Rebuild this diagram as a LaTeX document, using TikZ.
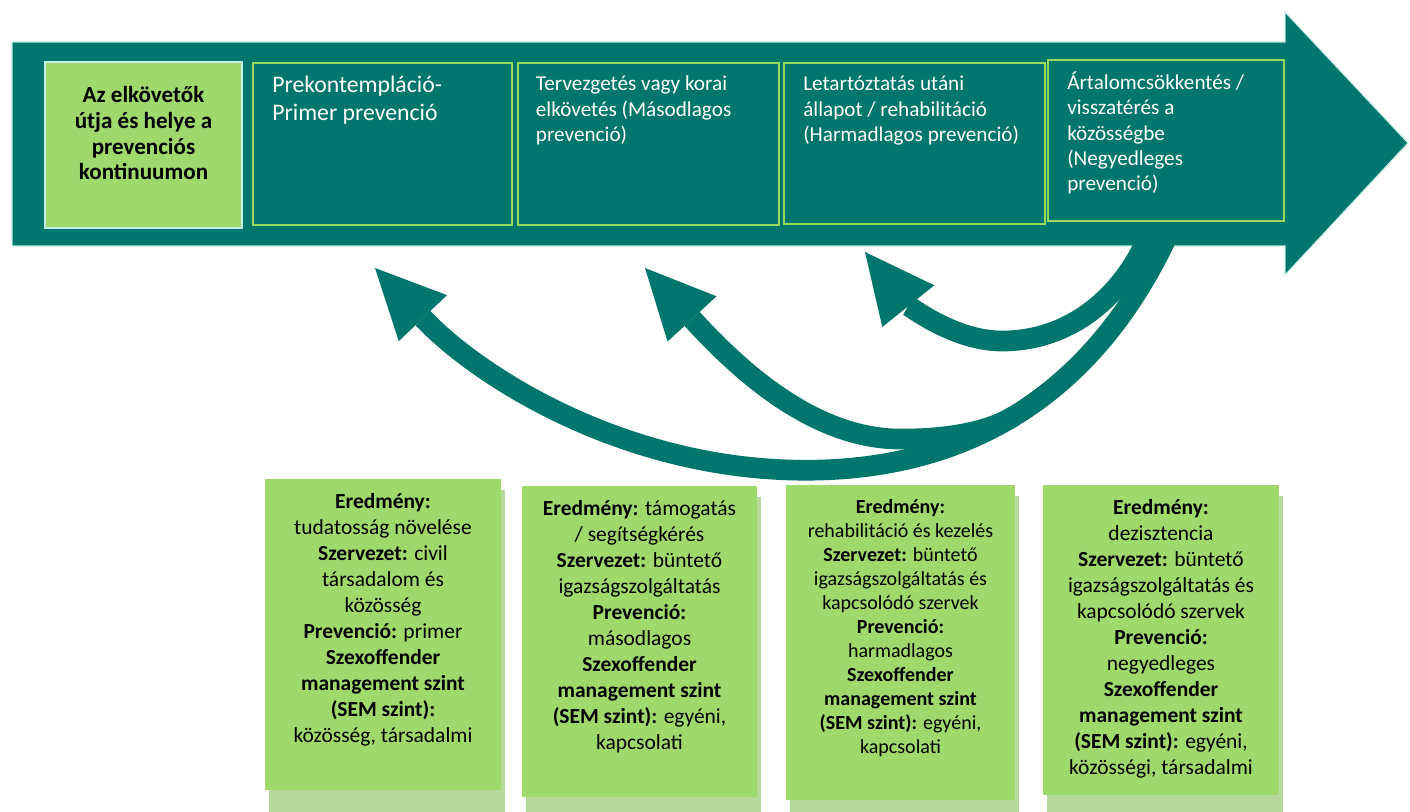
\documentclass[tikz,border=0pt]{standalone}
\usepackage{fontspec}
\setmainfont{Carlito}
\usetikzlibrary{arrows.meta,positioning,fit}

\definecolor{arrowteal}{HTML}{00766C}
\definecolor{boxgreen}{HTML}{A0D96B}
\definecolor{rimgreen}{HTML}{9ADB5C}
\definecolor{glow}{HTML}{C4EEE8}
\definecolor{shadowgreen}{HTML}{B6D89C}

\begin{document}
\begin{tikzpicture}[x=0.75pt, y=-0.75pt,
	stage/.style = {draw=rimgreen, line width=1.5pt, fill=arrowteal, inner sep=0pt},
	stagetext/.style = {anchor=north west, inner sep=0pt, text=white, align=left, font=\fontsize{15.9}{19}\selectfont},
	result/.style = {fill=boxgreen, inner sep=0pt},
	resulttext/.style = {anchor=north, inner sep=0pt, align=center, font=\fontsize{16.1}{19.5}\selectfont},
	back/.style = {draw=arrowteal, line width=15.5pt, -{Triangle[length=52pt, width=50pt, line width=0pt]}}]
	\useasboundingbox (0,0) rectangle (1410,812);

	% main arrow
	\fill[arrowteal, draw=glow, line width=0.8pt] (12,42) -- (1285,42) -- (1285,12) -- (1408,143) -- (1285,275) -- (1285,246) -- (12,246) -- cycle;

	\node[fit={(45,62) (242,228)}, fill=boxgreen, draw=glow, line width=1.5pt, inner sep=0pt] (start) {};
	\node[anchor=north, inner sep=0pt, align=center, font=\bfseries\fontsize{17.3}{19.3}\selectfont] (starttext) at ([yshift=-19pt]start.north) {Az elkövetők\\útja és helye a\\prevenciós\\kontinuumon};

	\node[stage, fit={(253,63) (512,225)}] (s1) {};
	\node[stage, fit={(518,63) (779,225)}] (s2) {};
	\node[stage, fit={(784,63) (1045,224)}] (s3) {};
	\node[stage, fit={(1048,60) (1284,221)}] (s4) {};
	\node[stagetext, font=\fontsize{17.8}{21.3}\selectfont] (s1text) at ([xshift=15pt, yshift=-10pt]s1.north west) {Prekontempláció-\\Primer prevenció};
	\node[stagetext] (s2text) at ([xshift=14pt, yshift=-10.5pt]s2.north west) {Tervezgetés vagy korai\\elkövetés (Másodlagos\\prevenció)};
	\node[stagetext] (s3text) at ([xshift=15pt, yshift=-10.5pt]s3.north west) {Letartóztatás utáni\\állapot / rehabilitáció\\(Harmadlagos prevenció)};
	\node[stagetext] (s4text) at ([xshift=15pt, yshift=-9.5pt]s4.north west) {Ártalomcsökkentés /\\visszatérés a\\közösségbe\\(Negyedleges\\prevenció)};

	% curved arrows back to the stages (the long one last, it covers the joins)
	\coordinate (from1) at (1167,237);
	\coordinate (from2) at (1013.4,416.5);
	\coordinate (from3) at (1148,237);
	\coordinate (to1) at (375,268);
	\coordinate (to2) at (645,268);
	\coordinate (to3) at (865,252);
	\draw[back] (from2) .. controls (990.3,430.5) and (950,440) .. (895,439) .. controls (805,436) and (730,360) .. (to2);
	\draw[back] (from3) .. controls (1118,305) and (1062,342) .. (1000,341) .. controls (950,340) and (905,302) .. (to3);
	\draw[back] (from1) .. controls (1090,400) and (960,475) .. (790,470) .. controls (620,465) and (480,378) .. (to1);

	\fill[shadowgreen] (269,490) rectangle (505,812);
	\fill[shadowgreen] (526,497) rectangle (761,812);
	\fill[shadowgreen] (790,496) rectangle (1019,812);
	\fill[shadowgreen] (1047,496) rectangle (1283,812);
	\node[result, fit={(265,479) (501,790)}] (r1) {};
	\node[result, fit={(522,486) (757,797)}] (r2) {};
	\node[result, fit={(786,485) (1015,800)}] (r3) {};
	\node[result, fit={(1043,485) (1279,795)}] (r4) {};

	\node[resulttext] (r1text) at ([yshift=-11pt]r1.north) {\textbf{Eredmény:}\\tudatosság növelése\\\textbf{Szervezet:} civil\\társadalom és\\közösség\\\textbf{Prevenció:} primer\\\textbf{Szexoffender}\\\textbf{management szint}\\\textbf{(SEM szint):}\\közösség, társadalmi};
	\node[resulttext] (r2text) at ([yshift=-11pt]r2.north) {\textbf{Eredmény:} támogatás\\/ segítségkérés\\\textbf{Szervezet:} büntető\\igazságszolgáltatás\\\textbf{Prevenció:}\\másodlagos\\\textbf{Szexoffender}\\\textbf{management szint}\\\textbf{(SEM szint):} egyéni,\\kapcsolati};
	\node[resulttext, font=\fontsize{15}{18}\selectfont] (r3text) at ([yshift=-11pt]r3.north) {\textbf{Eredmény:}\\rehabilitáció és kezelés\\\textbf{Szervezet:} büntető\\igazságszolgáltatás és\\kapcsolódó szervek\\\textbf{Prevenció:}\\harmadlagos\\\textbf{Szexoffender}\\\textbf{management szint}\\\textbf{(SEM szint):} egyéni,\\kapcsolati};
	\node[resulttext] (r4text) at ([yshift=-11pt]r4.north) {\textbf{Eredmény:}\\dezisztencia\\\textbf{Szervezet:} büntető\\igazságszolgáltatás és\\kapcsolódó szervek\\\textbf{Prevenció:}\\negyedleges\\\textbf{Szexoffender}\\\textbf{management szint}\\\textbf{(SEM szint):} egyéni,\\közösségi, társadalmi};
\end{tikzpicture}
\end{document}
